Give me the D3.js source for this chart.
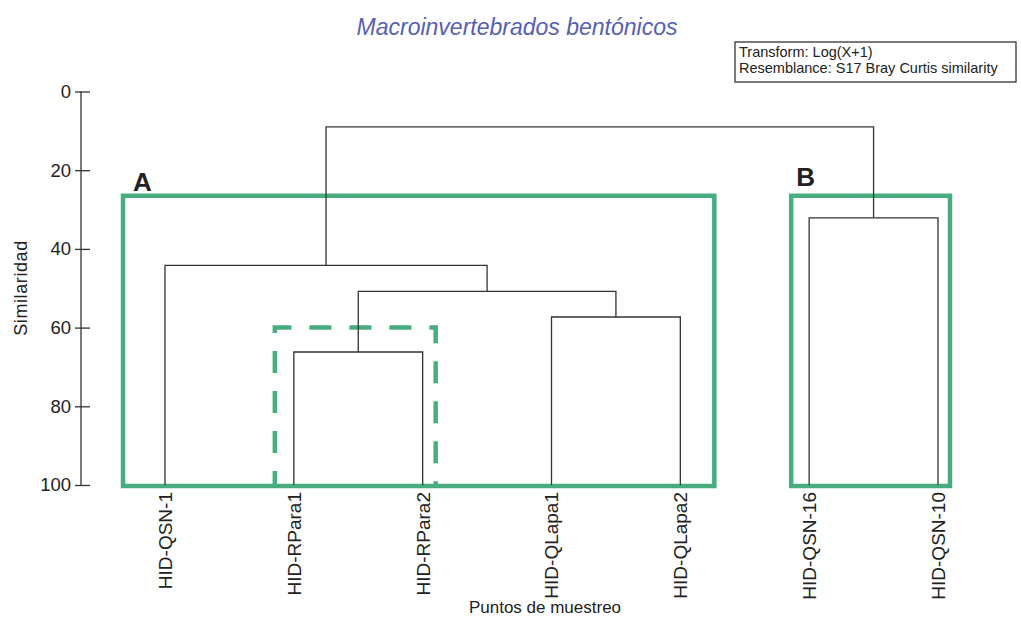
<!DOCTYPE html>
<html><head><meta charset="utf-8">
<script src="https://cdn.jsdelivr.net/npm/d3@7"></script>
<style>
body{margin:0;background:#fff}
svg{display:block}
text{font-family:"Liberation Sans",Arial,Helvetica,sans-serif;fill:#222}
</style>
</head><body>
<svg id="c" width="1021" height="620"></svg>
<script>
// ---- data ----
const leaves = ["HID-QSN-1","HID-RPara1","HID-RPara2","HID-QLapa1","HID-QLapa2","HID-QSN-16","HID-QSN-10"];
// merges: [child a, child b, similarity]; indices 0-6 are leaves, 7+ are merges in order
const mergeA = [1, 3, 7, 0, 5, 10];
const mergeB = [2, 4, 8, 9, 6, 11];
const mergeSim = [66.2, 57.3, 50.8, 44.2, 32.1, 9.0];
const yTicks = [0, 20, 40, 60, 80, 100];
const groupLabels = ["A", "B"];
const groupFirst = [0, 5];
const groupLast = [4, 6];
const groupLevel = [26.5, 26.5];
const subFirst = 1, subLast = 2, subLevel = 60;
const title = "Macroinvertebrados bentónicos";
const notes = ["Transform: Log(X+1)", "Resemblance: S17 Bray Curtis similarity"];
const yTitle = "Similaridad";
const xTitle = "Puntos de muestreo";

// ---- drawing ----
const svg = d3.select("#c");
const x = d3.scalePoint().domain(leaves).range([165, 938]);
const y = d3.scaleLinear().domain([0, 100]).range([91.5, 485]);
const green = "#47ad7f";

// nodes
const nodes = leaves.map(n => ({x: x(n), y: y(100)}));
mergeSim.forEach((s, i) => {
  const a = nodes[mergeA[i]], b = nodes[mergeB[i]];
  nodes.push({x: (a.x + b.x) / 2, y: y(s), a, b});
});

// group boxes
const padL = [42, 18], padR = [34, 12];
groupLabels.forEach((g, i) => {
  const x0 = x(leaves[groupFirst[i]]) - padL[i];
  const x1 = x(leaves[groupLast[i]]) + padR[i];
  const y0 = y(groupLevel[i]);
  const y1 = y(100) + 1;
  svg.append("rect").attr("x", x0).attr("y", y0).attr("width", x1 - x0).attr("height", y1 - y0)
    .attr("fill", "none").attr("stroke", green).attr("stroke-width", 4.5);
  svg.append("text").attr("x", x0 + (i === 0 ? 10 : 5)).attr("y", y0 - (i === 0 ? 5 : 10))
    .attr("font-size", 26).attr("font-weight", "bold").attr("fill", "#2a2a2a").text(g);
});

// dashed sub-box
{
  const x0 = x(leaves[subFirst]) - 19, x1 = x(leaves[subLast]) + 13;
  const y0 = y(subLevel), y1 = y(100);
  const p = d3.path();
  p.moveTo(x0, y1); p.lineTo(x0, y0); p.lineTo(x1, y0); p.lineTo(x1, y1);
  svg.append("path").attr("d", p.toString()).attr("fill", "none").attr("stroke", green)
    .attr("stroke-width", 4.5).attr("stroke-dasharray", "22,18").attr("stroke-dashoffset", 8);
}

// dendrogram links
nodes.filter(n => n.a).forEach(n => {
  const p = d3.path();
  p.moveTo(n.a.x, n.a.y); p.lineTo(n.a.x, n.y); p.lineTo(n.b.x, n.y); p.lineTo(n.b.x, n.b.y);
  svg.append("path").attr("d", p.toString()).attr("fill", "none")
    .attr("stroke", "#333").attr("stroke-width", 1.3);
});

// y axis
const axisX = 81;
const ax = svg.append("g").attr("transform", `translate(${axisX + 9},0)`)
  .call(d3.axisLeft(y).tickValues(yTicks).tickSize(15).tickPadding(4));
ax.select(".domain").remove();
ax.selectAll(".tick line").attr("stroke", "#333").attr("stroke-width", 1.3);
ax.selectAll(".tick text").attr("font-size", 18.5).attr("font-family", "Liberation Sans, Arial, sans-serif").attr("fill", "#222");
svg.append("line").attr("x1", axisX).attr("x2", axisX).attr("y1", y(0)).attr("y2", y(100))
  .attr("stroke", "#333").attr("stroke-width", 1.3);

// x labels
leaves.forEach(n => {
  svg.append("text").attr("transform", `translate(${x(n)},492) rotate(-90)`)
    .attr("text-anchor", "end").attr("dy", "0.36em").attr("font-size", 19).text(n);
});

// titles
svg.append("text").attr("x", 517).attr("y", 35).attr("text-anchor", "middle")
  .attr("font-size", 23).attr("font-style", "italic").style("fill", "#5560b0").text(title);
svg.append("text").attr("transform", "translate(27,288) rotate(-90)").attr("text-anchor", "middle")
  .attr("font-size", 18).attr("letter-spacing", 0.6).text(yTitle);
svg.append("text").attr("x", 545).attr("y", 613).attr("text-anchor", "middle")
  .attr("font-size", 17).text(xTitle);

// notes box
svg.append("rect").attr("x", 735).attr("y", 42).attr("width", 281).attr("height", 40)
  .attr("fill", "#fff").attr("stroke", "#333").attr("stroke-width", 1.3);
notes.forEach((t, i) => {
  svg.append("text").attr("x", 739).attr("y", 57 + i * 16).attr("font-size", 14.5).text(t);
});
</script>
</body></html>
